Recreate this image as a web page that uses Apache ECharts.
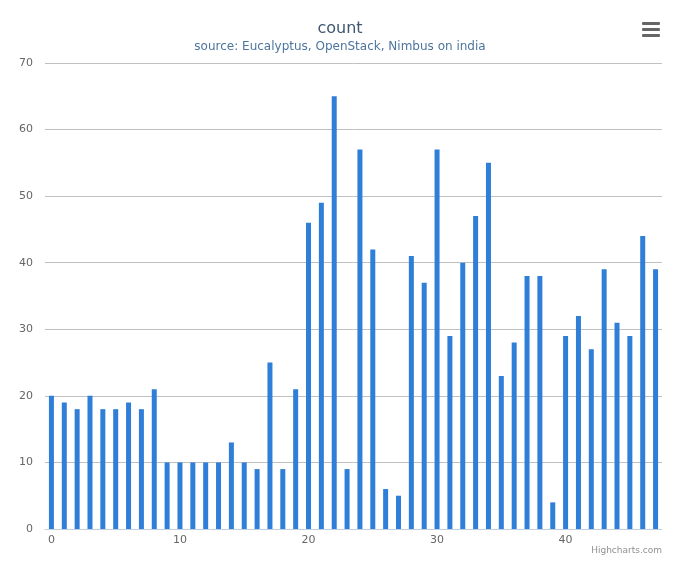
<!DOCTYPE html>
<html><head><meta charset="utf-8">
<script src="https://cdn.jsdelivr.net/npm/echarts@6/dist/echarts.min.js"></script>
<style>html,body{margin:0;padding:0;background:#fff}#c{width:680px;height:566px}</style>
</head><body><div id="c"></div>
<script>
const categories = Array.from({length:48},(_,i)=>String(i));
const counts = [20,19,18,20,18,18,19,18,21,10,10,10,10,10,13,10,9,25,9,21,46,49,65,9,57,42,6,5,41,37,57,29,40,47,55,23,28,38,38,4,29,32,27,39,31,29,44,39];
const titleText = 'count';
const subtitleText = 'source: Eucalyptus, OpenStack, Nimbus on india';
const chart = echarts.init(document.getElementById('c'));
chart.setOption({
  animation:false,
  title:{text:titleText,subtext:subtitleText,left:'center',top:16,itemGap:4,
    textStyle:{fontFamily:'DejaVu Sans',fontSize:16,color:'#3e576f',fontWeight:'normal'},
    subtextStyle:{fontFamily:'DejaVu Sans',fontSize:12,color:'#4d759e'}},
  grid:{left:45,right:18,top:63,bottom:37},
  xAxis:{type:'category',data:categories,
    axisLine:{lineStyle:{color:'#c0d0e0'}},axisTick:{show:false},
    axisLabel:{interval:9,color:'#666',fontFamily:'DejaVu Sans',fontSize:11,margin:6}},
  yAxis:{type:'value',min:0,max:70,interval:10,
    axisLabel:{color:'#666',fontFamily:'DejaVu Sans',fontSize:11,margin:12},
    splitLine:{lineStyle:{color:'#c0c0c0'}}},
  series:[{type:'bar',data:counts,barWidth:5,itemStyle:{color:'#2f7ed8'}}],
  graphic:[
    {type:'text',right:18,bottom:11,style:{text:'Highcharts.com',fill:'#909090',font:'9px DejaVu Sans'}},
    {type:'rect',shape:{x:642,y:22,width:18,height:3,r:1},style:{fill:'#666'}},
    {type:'rect',shape:{x:642,y:28,width:18,height:3,r:1},style:{fill:'#666'}},
    {type:'rect',shape:{x:642,y:34,width:18,height:3,r:1},style:{fill:'#666'}}
  ]
});
</script></body></html>
